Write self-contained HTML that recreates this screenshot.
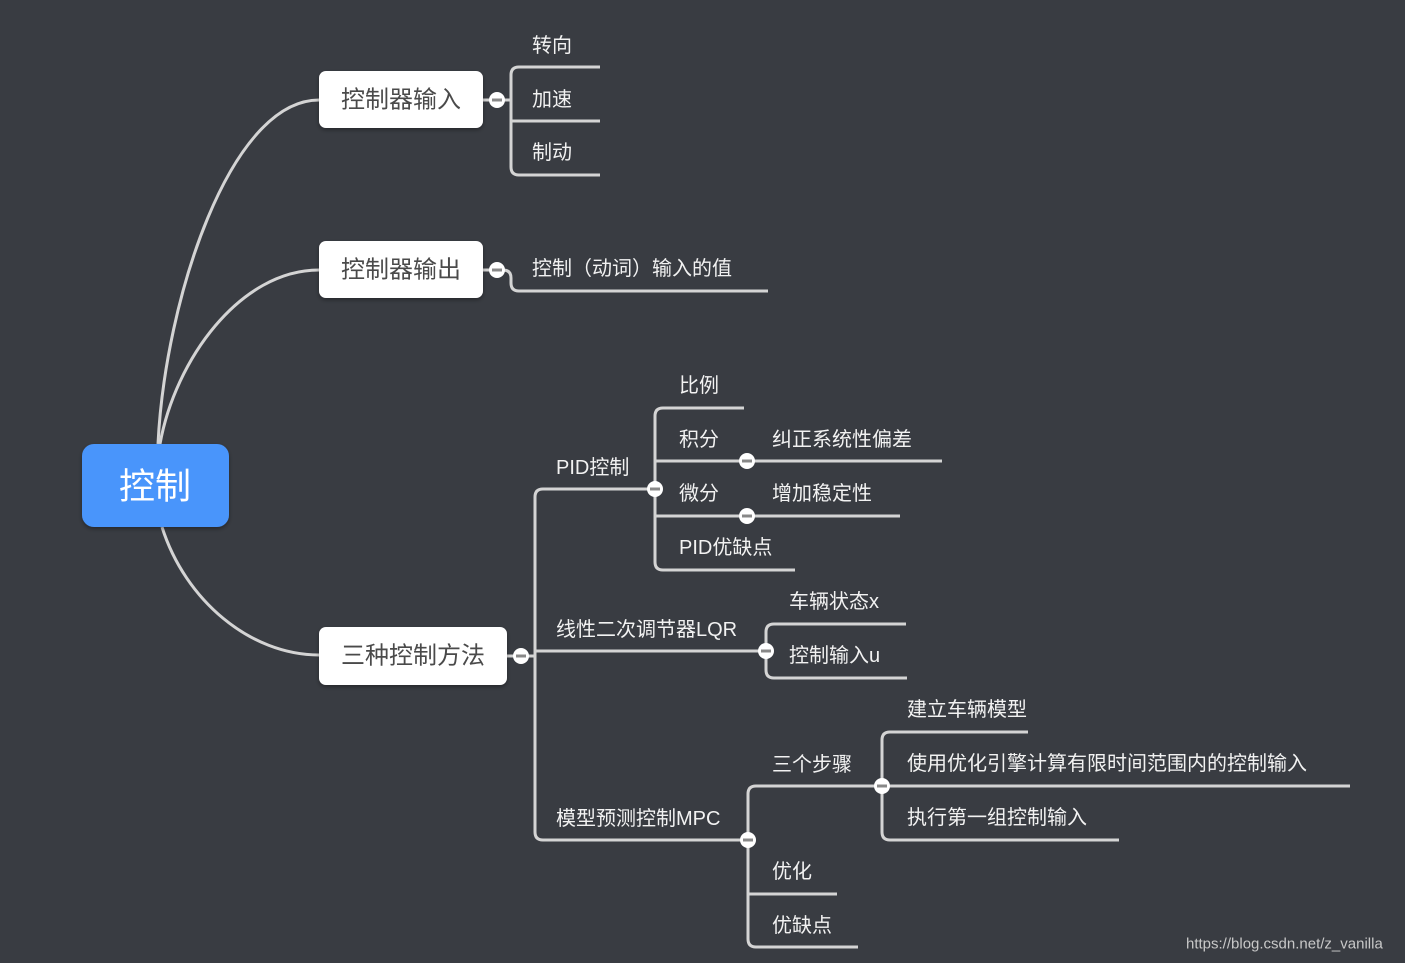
<!DOCTYPE html>
<html><head><meta charset="utf-8"><style>
html,body{margin:0;padding:0;background:#393c42;}
svg{display:block;}
.t{font-family:"Liberation Sans","Noto Sans CJK SC",sans-serif;font-size:20px;fill:#f2f2f2;dominant-baseline:central;}
.n{font-family:"Liberation Sans","Noto Sans CJK SC",sans-serif;font-size:24px;fill:#4a4a4a;dominant-baseline:central;}
.l{fill:none;stroke:#d4d4d4;stroke-width:3;}
</style></head><body>
<svg width="1405" height="963" viewBox="0 0 1405 963" xmlns="http://www.w3.org/2000/svg">
<rect width="1405" height="963" fill="#393c42"/>
<defs><filter id="sh" x="-20%" y="-20%" width="140%" height="150%"><feDropShadow dx="0" dy="2" stdDeviation="2" flood-color="#000" flood-opacity="0.35"/></filter></defs>
<!-- root curves -->
<path class="l" d="M158 444 C165 300 230 100 319 100"/>
<path class="l" d="M160 444 C175 360 240 270 319 270"/>
<path class="l" d="M162 527 C185 600 250 655 319 655"/>
<!-- node1 children -->
<path class="l" d="M483 100 H511"/>
<path class="l" d="M600 67 H519 Q511 67 511 75 V167 Q511 175 519 175 H600"/>
<path class="l" d="M511 121 H600"/>
<!-- node2 -->
<path class="l" d="M483 270 H503 Q511 270 511 278 V283 Q511 291 519 291 H768"/>
<!-- node3 -->
<path class="l" d="M507 656 H535"/>
<path class="l" d="M655 489 H543 Q535 489 535 497 V832 Q535 840 543 840 H748"/>
<path class="l" d="M535 651 H766"/>
<!-- PID -->
<path class="l" d="M744 408 H663 Q655 408 655 416 V562 Q655 570 663 570 H795"/>
<path class="l" d="M655 461 H942"/>
<path class="l" d="M655 516 H900"/>
<path class="l" d="M655 489 H640"/>
<!-- LQR -->
<path class="l" d="M906 624 H774 Q766 624 766 632 V670 Q766 678 774 678 H907"/>
<!-- MPC -->
<path class="l" d="M882 786 H756 Q748 786 748 794 V939 Q748 947 756 947 H858"/>
<path class="l" d="M748 894 H837"/>
<path class="l" d="M1028 732 H890 Q882 732 882 740 V832 Q882 840 890 840 H1119"/>
<path class="l" d="M882 786 H1350"/>
<!-- root -->
<rect x="82" y="444" width="147" height="83" rx="12" fill="#4895fb" filter="url(#sh)"/>
<text x="155" y="486" text-anchor="middle" style="font-family:'Liberation Sans','Noto Sans CJK SC',sans-serif;font-size:36px;fill:#fff;dominant-baseline:central;">控制</text>
<!-- nodes -->
<rect x="319" y="71" width="164" height="57" rx="7" fill="#fff" filter="url(#sh)"/>
<text class="n" x="341" y="100">控制器输入</text>
<rect x="319" y="241" width="164" height="57" rx="7" fill="#fff" filter="url(#sh)"/>
<text class="n" x="341" y="270">控制器输出</text>
<rect x="319" y="627" width="188" height="58" rx="7" fill="#fff" filter="url(#sh)"/>
<text class="n" x="341" y="656">三种控制方法</text>
<!-- labels -->
<text class="t" x="532" y="46">转向</text>
<text class="t" x="532" y="100">加速</text>
<text class="t" x="532" y="153">制动</text>
<text class="t" x="532" y="269">控制（动词）输入的值</text>
<text class="t" x="556" y="468">PID控制</text>
<text class="t" x="556" y="630">线性二次调节器LQR</text>
<text class="t" x="556" y="819">模型预测控制MPC</text>
<text class="t" x="679" y="386">比例</text>
<text class="t" x="679" y="440">积分</text>
<text class="t" x="679" y="494">微分</text>
<text class="t" x="679" y="548">PID优缺点</text>
<text class="t" x="772" y="440">纠正系统性偏差</text>
<text class="t" x="772" y="494">增加稳定性</text>
<text class="t" x="789" y="602">车辆状态x</text>
<text class="t" x="789" y="656">控制输入u</text>
<text class="t" x="772" y="765">三个步骤</text>
<text class="t" x="772" y="872">优化</text>
<text class="t" x="772" y="926">优缺点</text>
<text class="t" x="907" y="710">建立车辆模型</text>
<text class="t" x="907" y="764">使用优化引擎计算有限时间范围内的控制输入</text>
<text class="t" x="907" y="818">执行第一组控制输入</text>
<!-- collapse buttons -->
<g fill="#fff" stroke="#8a8a8a" stroke-width="0">
<circle cx="497" cy="100" r="8"/><circle cx="497" cy="270" r="8"/><circle cx="521" cy="656" r="8"/>
<circle cx="655" cy="489" r="8"/><circle cx="747" cy="461" r="8"/><circle cx="747" cy="516" r="8"/>
<circle cx="766" cy="651" r="8"/><circle cx="748" cy="840" r="8"/><circle cx="882" cy="786" r="8"/>
</g>
<g stroke="#888" stroke-width="3">
<path d="M492 100H502M492 270H502M516 656H526M650 489H660M742 461H752M742 516H752M761 651H771M743 840H753M877 786H887"/>
</g>
<text x="1186" y="944" style="font-family:'Liberation Sans',sans-serif;font-size:15px;fill:#c8c8c8;dominant-baseline:central;">https://blog.csdn.net/z_vanilla</text>
</svg>
</body></html>
